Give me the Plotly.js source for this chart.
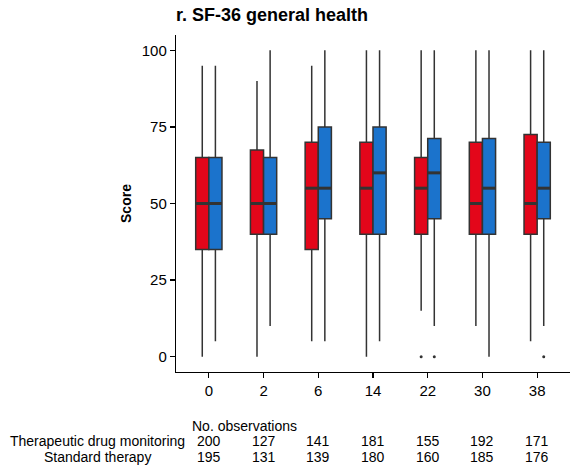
<!DOCTYPE html>
<html>
<head>
<meta charset="utf-8">
<script src="https://cdn.plot.ly/plotly-3.0.1.min.js"></script>
<style>
html,body{margin:0;padding:0;background:#fff;}
#chart{width:579px;height:470px;}
</style>
</head>
<body>
<div id="chart"></div>
<script>
// ---- data ----
const weeks = ["0", "2", "6", "14", "22", "30", "38"];

const tdmLower  = [0, 0, 5, 0, 15, 10, 5];
const tdmQ1     = [35, 40, 35, 40, 40, 40, 40];
const tdmMedian = [50, 50, 55, 55, 55, 50, 50];
const tdmQ3     = [65, 67.5, 70, 70, 65, 70, 72.5];
const tdmUpper  = [95, 90, 95, 100, 100, 100, 100];
const tdmOutlierWeek  = ["22"];
const tdmOutlierValue = [0];

const stdLower  = [5, 10, 5, 5, 10, 0, 10];
const stdQ1     = [35, 40, 45, 40, 45, 40, 45];
const stdMedian = [50, 50, 55, 60, 60, 55, 55];
const stdQ3     = [65, 65, 75, 75, 71.25, 71.25, 70];
const stdUpper  = [95, 100, 100, 100, 100, 100, 100];
const stdOutlierWeek  = ["22", "38"];
const stdOutlierValue = [0, 0];

const tdmCounts = [200, 127, 141, 181, 155, 192, 171];
const stdCounts = [195, 131, 139, 180, 160, 185, 176];

const groupNames = ["Therapeutic drug monitoring", "Standard therapy"];

// ---- styling ----
const RED = "#E3061A";
const BLUE = "#1B73CC";
const EDGE = "#333333";
const FONT = "Liberation Sans, Arial, sans-serif";
const BW = 0.24;       // box width in category units
const idx = weeks.map((w, i) => i);

function pos(offset) { return idx.map(i => i + offset); }
function posOf(list, offset) { return list.map(w => weeks.indexOf(w) + offset); }

function boxTrace(name, offset, q1, med, q3, lo, hi, color) {
  return {
    type: "box", name: name, x: pos(offset),
    q1: q1, median: med, q3: q3, lowerfence: lo, upperfence: hi,
    width: BW, fillcolor: color, whiskerwidth: 0,
    line: {color: EDGE, width: 1.5}, boxpoints: false,
    hoverinfo: "skip", showlegend: false
  };
}
function medianTrace(offset, med) {
  const xs = [], ys = [];
  med.forEach((m, i) => { xs.push(i + offset - BW / 2, i + offset + BW / 2, null); ys.push(m, m, null); });
  return {type: "scatter", mode: "lines", x: xs, y: ys, line: {color: EDGE, width: 3},
          hoverinfo: "skip", showlegend: false};
}
function outlierTrace(weeksList, vals, offset) {
  return {type: "scatter", mode: "markers", x: posOf(weeksList, offset), y: vals,
          marker: {color: EDGE, size: 3}, hoverinfo: "skip", showlegend: false};
}

const traces = [
  boxTrace(groupNames[0], -BW / 2, tdmQ1, tdmMedian, tdmQ3, tdmLower, tdmUpper, RED),
  boxTrace(groupNames[1], BW / 2, stdQ1, stdMedian, stdQ3, stdLower, stdUpper, BLUE),
  medianTrace(-BW / 2, tdmMedian),
  medianTrace(BW / 2, stdMedian),
  outlierTrace(tdmOutlierWeek, tdmOutlierValue, -BW / 2),
  outlierTrace(stdOutlierWeek, stdOutlierValue, BW / 2)
];

// ---- table of counts (annotations) ----
const annotations = [];
const rowY = [-0.205, -0.252];
annotations.push({xref: "paper", yref: "paper", x: 0.036, y: -0.160, xanchor: "left", yanchor: "middle",
  text: "No. observations", showarrow: false, font: {family: FONT, size: 14, color: "#000"}});
groupNames.forEach((g, r) => {
  annotations.push({xref: "paper", yref: "paper", x: -0.198, y: rowY[r], xanchor: "center", yanchor: "middle",
    text: g, showarrow: false, font: {family: FONT, size: 14, color: "#000"}});
});
[tdmCounts, stdCounts].forEach((row, r) => {
  row.forEach((n, i) => {
    annotations.push({xref: "x", yref: "paper", x: i, y: rowY[r], xanchor: "center", yanchor: "middle",
      text: String(n), showarrow: false, font: {family: FONT, size: 14, color: "#000"}});
  });
});

const layout = {
  width: 579, height: 470,
  margin: {l: 176, r: 9, t: 35, b: 98},
  paper_bgcolor: "#fff", plot_bgcolor: "#fff",
  font: {family: FONT, color: "#000"},
  title: {text: "<b>r. SF-36 general health</b>", x: 0, xref: "paper", xanchor: "left",
          y: 0.968, yref: "container", yanchor: "middle", font: {family: FONT, size: 18, color: "#000"}},
  boxmode: "overlay",
  showlegend: false,
  xaxis: {
    range: [-0.6, 6.6], tickmode: "array", tickvals: idx, ticktext: weeks,
    showgrid: false, zeroline: false, showline: true, linecolor: "#000", linewidth: 1.2,
    ticks: "outside", ticklen: 5, tickwidth: 1.2, tickcolor: "#000",
    tickfont: {family: FONT, size: 15, color: "#000"}, fixedrange: true
  },
  yaxis: {
    range: [-5, 105], tickvals: [0, 25, 50, 75, 100],
    showgrid: false, zeroline: false, showline: true, linecolor: "#000", linewidth: 1.2,
    ticks: "outside", ticklen: 5, tickwidth: 1.2, tickcolor: "#000",
    tickfont: {family: FONT, size: 15, color: "#000"},
    title: {text: "<b>Score</b>", font: {family: FONT, size: 14, color: "#000"}, standoff: 6},
    fixedrange: true
  },
  annotations: annotations
};

Plotly.newPlot("chart", traces, layout, {displayModeBar: false, staticPlot: true});
</script>
</body>
</html>
